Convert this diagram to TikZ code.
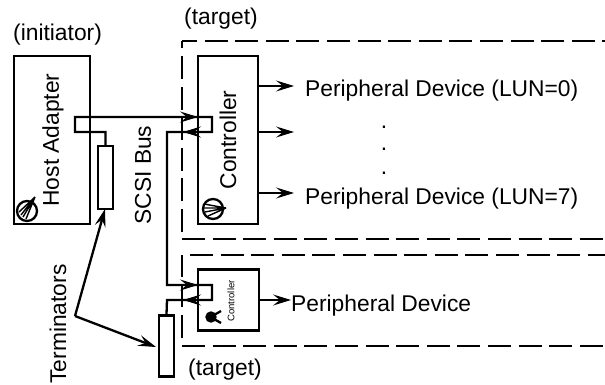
\documentclass[tikz,border=0pt]{standalone}
\usepackage{fontspec}
\setmainfont{Liberation Sans}
\usetikzlibrary{arrows.meta}
\tikzset{
  x=1pt,y=-1pt,
  every node/.style={font=\fontsize{22.8}{26}\selectfont,text=black,inner sep=0pt},
  boxn/.style={draw,line width=2.3pt,inner sep=0pt,fill=none},
  wire/.style={line width=2.3pt,line join=miter},
  dashline/.style={line width=2.4pt,dash pattern=on 23pt off 7.6pt},
  tip/.style={-{Stealth[length=18pt,width=11pt,inset=7pt,line width=1.2pt]}},
  knob/.style={line width=2.3pt},
  fan/.style={line width=1.4pt},
}
\begin{document}
\begin{tikzpicture}
\useasboundingbox (0,0) rectangle (605,385);
% boxes
\node[boxn,minimum width=76pt,minimum height=168pt] (ha) at (52,140) {};
\node[boxn,minimum width=60pt,minimum height=168pt] (c1) at (228,140) {};
\node[boxn,minimum width=61pt,minimum height=61pt] (c2) at (228.5,300) {};
\node[boxn,minimum width=15pt,minimum height=63pt] (t1) at (105.5,177.5) {};
\node[boxn,minimum width=15pt,minimum height=61pt] (t2) at (166.5,346) {};
% dashed regions
\coordinate (d1a) at (605,41); \coordinate (d1b) at (182,41); \coordinate (d1c) at (182,232);
\coordinate (d1d) at (182,239); \coordinate (d1e) at (605,239);
\coordinate (d2a) at (605,255); \coordinate (d2b) at (190,255);
\coordinate (d2c) at (182,255); \coordinate (d2d) at (182,338);
\coordinate (d2e) at (182,346); \coordinate (d2f) at (605,346);
\draw[dashline,dash phase=8pt] (d1b) -- (d1a);
\draw[dashline] (d1c) -- (d1b);
\draw[dashline] (d1d) -- (d1e);
\draw[dashline] (d2b) -- (d2a);
\draw[dashline] (d2d) -- (d2c);
\draw[dashline] (d2e) -- (d2f);
% bus wiring
\coordinate (b1) at (75,117); \coordinate (b2) at (75,132); \coordinate (b3) at (105.5,132);
\coordinate (b4) at (212,117); \coordinate (b5) at (212,132); \coordinate (b6) at (167,132);
\coordinate (b7) at (167,285); \coordinate (b8) at (212,285); \coordinate (b9) at (212,300);
\coordinate (b10) at (167,300);
\draw[wire] (t1.north) -- (b3) -- (b2) -- (b1) -- (b4) -- (b5) -- (b6) -- (b7) -- (b8) -- (b9) -- (b10) -- (t2.north);
% arrows on bus
\coordinate (a1s) at (167,117); \coordinate (a1e) at (198,117);
\coordinate (a2s) at (198,132); \coordinate (a2e) at (183,132);
\coordinate (a3s) at (180,285); \coordinate (a3e) at (198,285);
\coordinate (a4s) at (198,300); \coordinate (a4e) at (183,300);
\draw[wire,tip] (a1s) -- (a1e);
\draw[wire,tip] (a2s) -- (a2e);
\draw[wire,tip] (a3s) -- (a3e);
\draw[wire,tip] (a4s) -- (a4e);
% device arrows
\coordinate (p0) at (294,86); \coordinate (p1) at (294,132); \coordinate (p7) at (294,193); \coordinate (pd) at (291,300);
\draw[wire,tip] (c1.east |- p0) -- (p0);
\draw[wire,tip] (c1.east |- p1) -- (p1);
\draw[wire,tip] (c1.east |- p7) -- (p7);
\draw[wire,tip] (c2.east |- pd) -- (pd);
% terminator pointers
\coordinate (tj) at (75,316); \coordinate (tt1) at (105,209); \coordinate (tt2) at (156,347);
\draw[wire,tip] (tj) -- (tt1);
\draw[wire,tip] (tj) -- (tt2);
% labels
\node[anchor=base west] (li) at (13,41) {(initiator)};
\node[anchor=base west] (lt) at (184,25) {(target)};
\node[anchor=base west] (lb) at (188,375) {(target)};
\node[rotate=90] (lh) at (53,140) {Host Adapter};
\node[rotate=90] (lc) at (228,140) {Controller};
\node[rotate=90] (ls) at (143,175) {SCSI Bus};
\node[rotate=90] (lte) at (58,324) {Terminators};
\node[rotate=90,font=\fontsize{9.5}{11}\selectfont] (ls2) at (231,301) {Controller};
\node[anchor=base west] (l0) at (305,97) {Peripheral Device (LUN=0)};
\node[anchor=base west] (l7) at (305,204) {Peripheral Device (LUN=7)};
\node[anchor=base west] (l2) at (291,311) {Peripheral Device};
\node (dot1) at (384,127) {.};
\node (dot2) at (384,149.5) {.};
\node (dot3) at (384,173) {.};
% knobs
\draw[knob] (27,211) circle (10);
\draw[fan] (35,197)--(19,212) (35,197)--(21,215) (35,197)--(23,217) (35,197)--(26,219);
\draw[knob] (213,209) circle (10);
\draw[fan] (226,208)--(204,204) (226,208)--(204,208) (226,208)--(205,212) (226,208)--(208,216);
\draw[knob,fill=black] (211,317) circle (4.5);
\draw[knob] (214,315) -- (221,311) (214,319) -- (221,323);
\end{tikzpicture}
\end{document}
